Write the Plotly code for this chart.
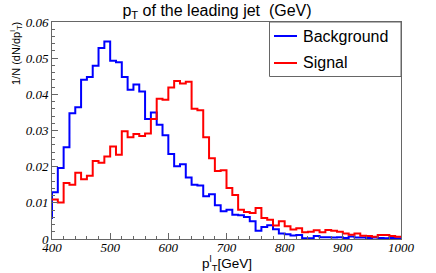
import plotly.graph_objects as go

# ---- data (10 GeV bins, left edges; first bin 390 lies outside the shown range) ----
bin_edges = list(range(390, 1001, 10))

background = [0.0058,
    0.0129, 0.0196, 0.0254, 0.0348, 0.0364, 0.0440, 0.0448, 0.0479, 0.0528, 0.0546,
    0.0493, 0.0489, 0.0448, 0.0413, 0.0427, 0.0408, 0.0332, 0.0350, 0.0316, 0.0287,
    0.0235, 0.0201, 0.0207, 0.0170, 0.0150, 0.0148, 0.0118, 0.0124, 0.0093, 0.0077,
    0.0081, 0.0067, 0.0066, 0.0061, 0.0049, 0.0023, 0.0033, 0.0038, 0.0027, 0.0015,
    0.0013, 0.0010, 0.0011, 0.0002, 0.0002, 0.0008, 0.0005, 0.0005, 0.0004, 0.0005,
    0.0003, 0.0007, 0.0004, 0.0004, 0.0003, 0.0004, 0.0003, 0.0002, 0.0003, 0.0002]

signal = [0.0109,
    0.0109, 0.0101, 0.0155, 0.0150, 0.0183, 0.0165, 0.0175, 0.0216, 0.0211, 0.0228,
    0.0256, 0.0233, 0.0298, 0.0281, 0.0290, 0.0285, 0.0292, 0.0332, 0.0388, 0.0385,
    0.0419, 0.0437, 0.0430, 0.0435, 0.0360, 0.0356, 0.0281, 0.0223, 0.0188, 0.0190,
    0.0141, 0.0122, 0.0081, 0.0075, 0.0072, 0.0086, 0.0058, 0.0053, 0.0037, 0.0049,
    0.0035, 0.0026, 0.0030, 0.0019, 0.0020, 0.0024, 0.0019, 0.0025, 0.0023, 0.0020,
    0.0015, 0.0012, 0.0015, 0.0009, 0.0008, 0.0006, 0.0011, 0.0011, 0.0008, 0.0006]

x_ticks = [400, 500, 600, 700, 800, 900, 1000]
x_ticklabels = ["400", "500", "600", "700", "800", "900", "1000"]
y_ticks = [0, 0.01, 0.02, 0.03, 0.04, 0.05, 0.06]
y_ticklabels = ["0", "0.01", "0.02", "0.03", "0.04", "0.05", "0.06"]

series = [("Background", background, "#0000ff"), ("Signal", signal, "#ff0000")]

# plot-area geometry in pixels (used for the hand-drawn ROOT-style legend)
W, H = 436, 273
ML, MR, MT, MB = 52, 35, 22, 34
PW, PH = W - ML - MR, H - MT - MB


def px_x(p):
    return (p - ML) / PW


def px_y(p):
    return (H - MB - p) / PH


fig = go.Figure()
for name, vals, col in series:
    fig.add_trace(go.Scatter(
        x=bin_edges, y=vals + [vals[-1]], mode="lines", line_shape="hv",
        line=dict(color=col, width=2), name=name, showlegend=False,
    ))

tick_font = dict(family="Liberation Serif", size=13, color="black", style="italic")
sans = "Liberation Sans"
frame = "#666666"

shapes = [dict(type="rect", xref="paper", yref="paper",
               x0=px_x(269.5), x1=1, y0=px_y(76.5), y1=1,
               line=dict(color=frame, width=1), fillcolor="white", layer="above")]
annotations = []
for i, (name, vals, col) in enumerate(series):
    yy = px_y(36 + 27 * i)
    shapes.append(dict(type="line", xref="paper", yref="paper",
                       x0=px_x(274), x1=px_x(297), y0=yy, y1=yy,
                       line=dict(color=col, width=2), layer="above"))
    annotations.append(dict(text=name, xref="paper", yref="paper",
                            x=px_x(301), y=yy, xanchor="left", yanchor="middle",
                            showarrow=False,
                            font=dict(family=sans, size=16, color="black")))

annotations.append(dict(text="1/N (dN/dp<sup>l</sup><sub>T</sub>)", textangle=-90,
                        xref="paper", yref="paper", x=px_x(15.5), y=1,
                        xanchor="center", yanchor="top", yshift=2, showarrow=False,
                        font=dict(family=sans, size=11, color="black")))
annotations.append(dict(text="p<sup>l</sup><sub>T</sub>[GeV]",
                        xref="paper", yref="paper", x=0.5, y=0,
                        xanchor="center", yanchor="middle", yshift=-24,
                        showarrow=False,
                        font=dict(family=sans, size=13.5, color="black")))

fig.update_layout(
    width=W, height=H,
    margin=dict(l=ML, r=MR, t=MT, b=MB),
    paper_bgcolor="white", plot_bgcolor="white",
    title=dict(text="p<sub>T</sub> of the leading jet\u00a0\u00a0(GeV)",
               font=dict(family=sans, size=16, color="black"),
               x=217 / W, xanchor="center", xref="container",
               y=1 - 10 / H, yanchor="middle", yref="container"),
    showlegend=False,
    xaxis=dict(range=[400, 1000], showgrid=False, zeroline=False, automargin=False,
               showline=True, linecolor=frame, linewidth=1, mirror=True,
               ticks="inside", ticklen=6, tickcolor=frame, ticklabelstandoff=-4,
               tickvals=x_ticks, ticktext=x_ticklabels, tickfont=tick_font,
               minor=dict(dtick=20, ticks="inside", ticklen=3, tickcolor=frame)),
    yaxis=dict(range=[0, 0.06], showgrid=False, zeroline=False, automargin=False,
               showline=True, linecolor=frame, linewidth=1, mirror=True,
               ticks="inside", ticklen=6, tickcolor=frame,
               tickvals=y_ticks, ticktext=y_ticklabels, tickfont=tick_font,
               minor=dict(dtick=0.002, ticks="inside", ticklen=3, tickcolor=frame)),
    shapes=shapes,
    annotations=annotations,
)

fig.write_html("out.html", config={"displayModeBar": False},
               post_script="document.body.style.margin='0px';")
